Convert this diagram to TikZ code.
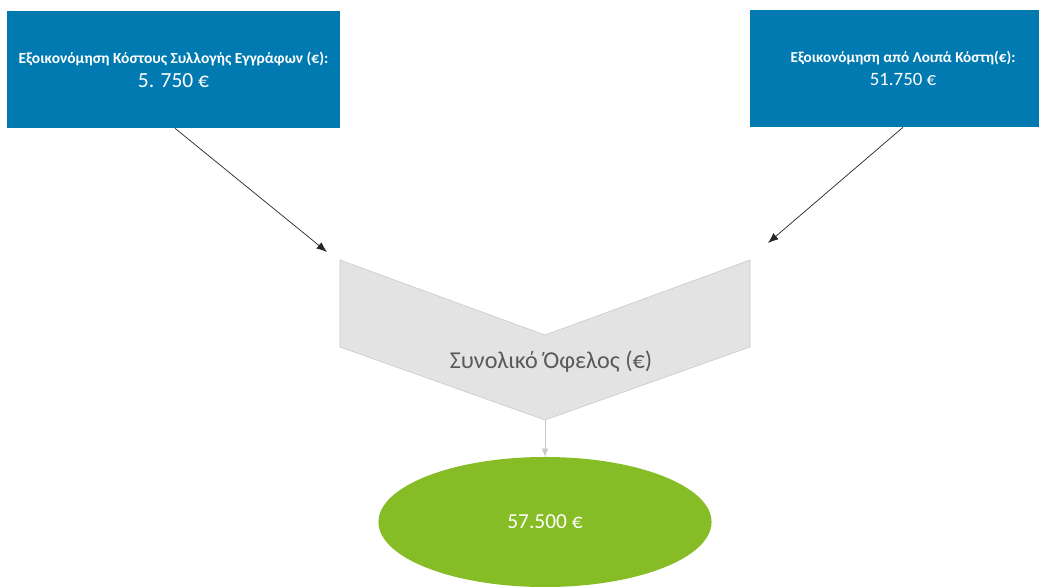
\documentclass[tikz,border=0pt]{standalone}
\usepackage{fontspec}
\setmainfont{Carlito}
\usepackage{xcolor}
\usetikzlibrary{shapes.geometric}
\usetikzlibrary{calc}
\usetikzlibrary{arrows.meta}
\definecolor{boxblue}{RGB}{0,122,176}
\definecolor{chevgray}{RGB}{227,227,227}
\definecolor{chevline}{RGB}{200,200,200}
\definecolor{textgray}{RGB}{89,89,89}
\definecolor{resgreen}{RGB}{134,188,37}

\begin{document}
\begin{tikzpicture}[x=0.025cm, y=-0.025cm, savebox/.style={rectangle, fill=boxblue, text=white, align=center, inner sep=0pt, minimum height=2.925cm}, arr/.style={-{Latex[length=2.6mm, width=2mm]}, line width=0.5pt, black!85}]
  \useasboundingbox (0,0) rectangle (1039,586);
  % inputs
  \node[savebox, minimum width=8.325cm](doc) at (173.5,69.5){\fontsize{11}{13}\selectfont\bfseries Εξοικονόμηση Κόστους Συλλογής Εγγράφων (€):\\[5pt] \fontsize{15.3}{16}\selectfont 5. 750 €};
  \node[savebox, minimum width=7.65cm](rest) at (903,68.5){\fontsize{10.8}{13}\selectfont\bfseries Εξοικονόμηση από Λοιπά Κόστη(€):\\[4pt] \fontsize{13.4}{15}\selectfont 51.750 €};
  % chevron
  \draw[fill=chevgray, draw=chevline, thin] (340,260) -- (545,335) -- (750,260) -- (750,347) -- (545,420) -- (340,347) -- cycle;
  \coordinate(tip) at (545,420);
  \coordinate(inl) at (327,252);
  \coordinate(inr) at (768,243);
  \node[text=textgray, inner sep=0pt](sum) at (551,362){\fontsize{17.2}{20}\selectfont Συνολικό Όφελος (€)};
  % result
  \node[ellipse, fill=resgreen, text=white, inner sep=0pt, minimum width=8.325cm, minimum height=3.25cm](res) at (545,522){\fontsize{15.2}{17}\selectfont 57.500 €};
  \draw[arr] ($(doc.south)+(1.5,0)$) -- (inl);
  \draw[arr] (rest.south) -- (inr);
  \draw[-{Latex[length=2mm, width=1.6mm]}, chevline] (tip) -- (res.north);
\end{tikzpicture}
\end{document}
